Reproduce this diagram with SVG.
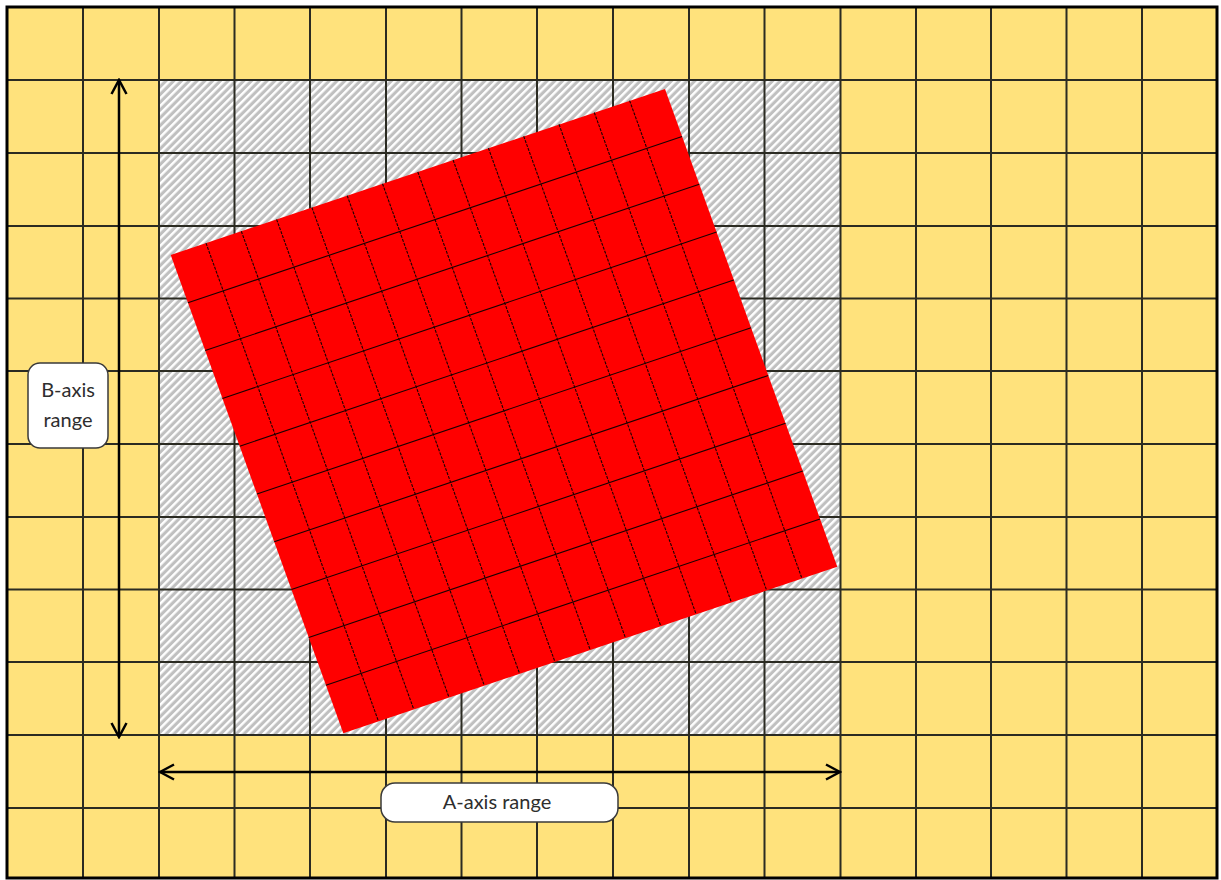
<svg xmlns="http://www.w3.org/2000/svg" width="1221" height="880" viewBox="0 0 1221 880">
  <style>
    .grid { stroke: #2b2b22; stroke-width: 2; fill: none; }
    .rg { stroke: #1a0000; stroke-width: 1.1; fill: none; }
    .rgc { stroke: #1a0000; stroke-width: 1.1; fill: none; stroke-dasharray: 3 1.2; }
    .axis { stroke: #000; stroke-width: 2.5; fill: none; marker-end: url(#chev); marker-start: url(#chev); }
    .lbl { fill: #fff; stroke: #3a3a3a; stroke-width: 1.5; }
    .txt { font-family: Lato, "Liberation Sans", sans-serif; font-size: 20px; fill: #2e2e2e; text-anchor: middle; }
  </style>
  <defs>
    <pattern id="hatch" patternUnits="userSpaceOnUse" width="5.5" height="5.5" patternTransform="rotate(45)">
      <rect width="5.5" height="5.5" fill="#c0c0c0"/>
      <rect width="2.4" height="5.5" fill="#ffffff"/>
    </pattern>
    <marker id="chev" viewBox="0 0 18 18" refX="16" refY="9" markerWidth="18" markerHeight="18" markerUnits="userSpaceOnUse" orient="auto-start-reverse">
      <path d="M2,1.5 L16,9 L2,16.5" fill="none" stroke="#000" stroke-width="2.5"/>
    </marker>
  </defs>

  <rect width="1221" height="880" fill="#ffffff"/>

  <g id="background-grid">
    <rect x="7" y="7" width="1210" height="871" fill="#ffe27c"/>
    <rect id="hatched-area" x="159" y="80" width="681.5" height="655" fill="url(#hatch)"/>
    <g class="grid">
      <line x1="83" y1="7" x2="83" y2="878"/>
      <line x1="159" y1="7" x2="159" y2="878"/>
      <line x1="234.5" y1="7" x2="234.5" y2="878"/>
      <line x1="310" y1="7" x2="310" y2="878"/>
      <line x1="386" y1="7" x2="386" y2="878"/>
      <line x1="461.5" y1="7" x2="461.5" y2="878"/>
      <line x1="537" y1="7" x2="537" y2="878"/>
      <line x1="613" y1="7" x2="613" y2="878"/>
      <line x1="689" y1="7" x2="689" y2="878"/>
      <line x1="764.5" y1="7" x2="764.5" y2="878"/>
      <line x1="840.5" y1="7" x2="840.5" y2="878"/>
      <line x1="916" y1="7" x2="916" y2="878"/>
      <line x1="991" y1="7" x2="991" y2="878"/>
      <line x1="1066.5" y1="7" x2="1066.5" y2="878"/>
      <line x1="1142" y1="7" x2="1142" y2="878"/>
      <line x1="7" y1="80" x2="1217" y2="80"/>
      <line x1="7" y1="153" x2="1217" y2="153"/>
      <line x1="7" y1="226" x2="1217" y2="226"/>
      <line x1="7" y1="298.5" x2="1217" y2="298.5"/>
      <line x1="7" y1="371" x2="1217" y2="371"/>
      <line x1="7" y1="444" x2="1217" y2="444"/>
      <line x1="7" y1="517" x2="1217" y2="517"/>
      <line x1="7" y1="589.5" x2="1217" y2="589.5"/>
      <line x1="7" y1="662" x2="1217" y2="662"/>
      <line x1="7" y1="735" x2="1217" y2="735"/>
      <line x1="7" y1="808" x2="1217" y2="808"/>
    </g>
    <rect x="7" y="7" width="1210" height="871" fill="none" stroke="#000" stroke-width="3"/>
  </g>

  <g id="rotated-square">
    <polygon points="170.7,255 665,89 837.3,566.7 343.3,733.3" fill="#ff0000"/>
    <g class="rgc">
      <line x1="206.0" y1="243.1" x2="378.4" y2="721.1"/>
      <line x1="241.3" y1="231.2" x2="413.7" y2="709.2"/>
      <line x1="276.6" y1="219.4" x2="449.0" y2="697.4"/>
      <line x1="311.9" y1="207.5" x2="484.3" y2="685.5"/>
      <line x1="347.2" y1="195.6" x2="519.6" y2="673.6"/>
      <line x1="382.5" y1="183.7" x2="554.9" y2="661.7"/>
      <line x1="417.8" y1="171.9" x2="590.2" y2="649.9"/>
      <line x1="453.1" y1="160.0" x2="625.5" y2="638.0"/>
      <line x1="488.4" y1="148.1" x2="660.8" y2="626.1"/>
      <line x1="523.7" y1="136.2" x2="696.1" y2="614.2"/>
      <line x1="559.0" y1="124.3" x2="731.4" y2="602.3"/>
      <line x1="594.3" y1="112.5" x2="766.7" y2="590.5"/>
      <line x1="629.6" y1="100.6" x2="802.0" y2="578.6"/>
    </g>
    <g class="rg">
      <line x1="187.9" y1="302.8" x2="682.1" y2="136.5"/>
      <line x1="205.2" y1="350.6" x2="699.3" y2="184.3"/>
      <line x1="222.4" y1="398.4" x2="716.6" y2="232.1"/>
      <line x1="239.7" y1="446.2" x2="733.8" y2="279.9"/>
      <line x1="256.9" y1="494.0" x2="751.1" y2="327.7"/>
      <line x1="274.2" y1="541.8" x2="768.3" y2="375.5"/>
      <line x1="291.4" y1="589.6" x2="785.6" y2="423.3"/>
      <line x1="308.7" y1="637.4" x2="802.8" y2="471.1"/>
      <line x1="325.9" y1="685.2" x2="820.1" y2="518.9"/>
    </g>
  </g>

  <g id="connectors">
    <line id="b-axis-arrow" class="axis" x1="119" y1="80" x2="119" y2="737"/>
    <line id="a-axis-arrow" class="axis" x1="160" y1="772" x2="840" y2="772"/>
  </g>

  <g id="b-axis-label">
    <rect class="lbl" x="28" y="363" width="80" height="85" rx="12" ry="12"/>
    <text class="txt" x="68" y="397">B-axis</text>
    <text class="txt" x="68" y="427">range</text>
  </g>

  <g id="a-axis-label">
    <rect class="lbl" x="381" y="783" width="237" height="39" rx="14" ry="14"/>
    <text class="txt" x="497" y="809">A-axis range</text>
  </g>
</svg>
